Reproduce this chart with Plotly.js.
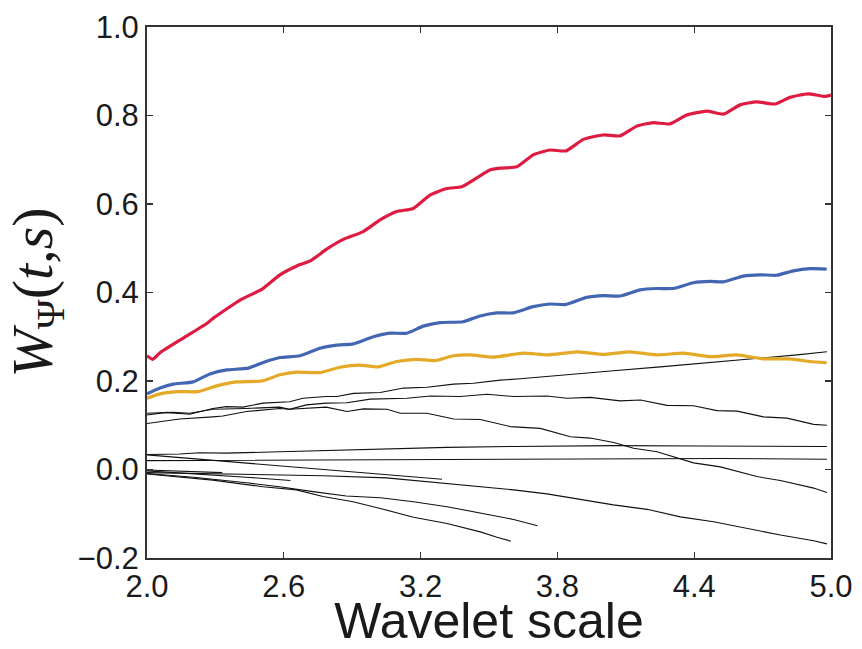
<!DOCTYPE html>
<html>
<head>
<meta charset="utf-8">
<script src="https://cdn.plot.ly/plotly-3.0.1.min.js"></script>
<style>
  html, body { margin: 0; padding: 0; background: #ffffff; }
  #chart { width: 862px; height: 649px; }
</style>
</head>
<body>
<div id="chart"></div>
<script>
// Wavelet coefficient W_Psi(t, s) against wavelet scale s.

// Highlighted series
const redScale = [2.000,2.025,2.057,2.159,2.262,2.291,2.408,2.503,2.583,2.657,2.718,2.788,2.861,2.946,3.022,3.095,3.168,3.241,3.314,3.380,3.431,3.504,3.548,3.622,3.694,3.768,3.838,3.914,4.001,4.075,4.148,4.221,4.294,4.367,4.455,4.528,4.601,4.674,4.754,4.820,4.900,4.974,5.000];
const redW     = [0.257,0.249,0.264,0.297,0.330,0.342,0.383,0.407,0.440,0.460,0.472,0.498,0.520,0.537,0.564,0.583,0.590,0.620,0.635,0.639,0.654,0.677,0.681,0.684,0.711,0.722,0.720,0.746,0.756,0.754,0.776,0.784,0.781,0.801,0.810,0.803,0.824,0.831,0.826,0.841,0.849,0.843,0.846];

const blueScale = [2.000,2.057,2.115,2.203,2.276,2.350,2.444,2.510,2.583,2.671,2.759,2.832,2.905,2.993,3.066,3.139,3.212,3.285,3.387,3.461,3.534,3.607,3.694,3.768,3.838,3.928,4.001,4.075,4.162,4.236,4.308,4.396,4.469,4.528,4.615,4.689,4.762,4.835,4.908,4.981];
const blueW     = [0.171,0.184,0.193,0.198,0.216,0.225,0.229,0.242,0.253,0.257,0.274,0.281,0.284,0.300,0.308,0.308,0.324,0.332,0.334,0.347,0.354,0.354,0.368,0.374,0.373,0.389,0.393,0.392,0.406,0.409,0.409,0.422,0.425,0.424,0.437,0.440,0.439,0.449,0.454,0.453];

const goldScale = [2.000,2.057,2.130,2.225,2.306,2.393,2.503,2.583,2.657,2.759,2.846,2.934,3.014,3.095,3.183,3.263,3.343,3.417,3.519,3.650,3.760,3.885,4.001,4.118,4.236,4.352,4.469,4.586,4.703,4.820,4.908,4.981];
const goldW     = [0.161,0.171,0.176,0.176,0.189,0.198,0.200,0.214,0.220,0.219,0.231,0.236,0.232,0.244,0.249,0.246,0.257,0.259,0.254,0.263,0.259,0.266,0.260,0.266,0.259,0.263,0.255,0.259,0.250,0.250,0.244,0.241];

// Background series (thin black)
const s1Scale = [2.000,2.085,2.187,2.289,2.348,2.421,2.509,2.625,2.684,2.786,2.833,2.906,3.023,3.125,3.228,3.345,3.432,3.550,3.637,3.827,4.046,4.251,4.456,4.661,4.851,4.982];
const s1W     = [0.123,0.129,0.125,0.138,0.142,0.141,0.150,0.153,0.161,0.165,0.165,0.172,0.174,0.184,0.186,0.193,0.195,0.202,0.205,0.214,0.223,0.232,0.241,0.251,0.259,0.266];

const s2Scale = [2.000,2.114,2.187,2.289,2.436,2.582,2.625,2.699,2.786,2.877,2.979,3.140,3.243,3.374,3.491,3.608,3.754,3.842,3.944,4.075,4.164,4.281,4.397,4.500,4.588,4.704,4.807,4.924,4.982];
const s2W     = [0.127,0.129,0.127,0.136,0.138,0.141,0.136,0.146,0.150,0.151,0.159,0.161,0.166,0.165,0.170,0.165,0.166,0.161,0.163,0.155,0.157,0.145,0.144,0.133,0.132,0.119,0.116,0.102,0.100];

const s3Scale = [2.000,2.143,2.289,2.333,2.436,2.582,2.625,2.786,2.877,2.950,3.053,3.111,3.228,3.345,3.462,3.593,3.725,3.857,3.944,4.047,4.134,4.237,4.397,4.515,4.675,4.778,4.924,4.982];
const s3W     = [0.104,0.114,0.119,0.121,0.131,0.138,0.136,0.141,0.131,0.137,0.136,0.127,0.127,0.114,0.113,0.097,0.093,0.074,0.071,0.061,0.048,0.040,0.015,0.006,-0.016,-0.025,-0.042,-0.052];

const s4Scale = [2.000,2.143,2.231,2.348,2.582,2.728,3.050,3.316,3.608,3.900,4.046,4.425,4.690,4.982];
const s4W     = [0.034,0.035,0.038,0.037,0.040,0.042,0.046,0.050,0.052,0.053,0.054,0.053,0.052,0.052];

const s5Scale = [2.000,2.582,3.050,3.550,4.075,4.515,4.982];
const s5W     = [0.020,0.021,0.023,0.024,0.025,0.025,0.023];

const s6Scale = [2.000,2.117,2.263,2.409,2.511,2.629,2.775,2.921,3.050,3.177,3.294];
const s6W     = [0.033,0.028,0.021,0.016,0.010,0.006,0.000,-0.007,-0.012,-0.017,-0.022];

const s7Scale = [2.000,2.234,2.497,2.773,3.050,3.294,3.462,3.608,3.754,3.900,4.046,4.193,4.339,4.485,4.632,4.778,4.924,4.982];
const s7W     = [-0.007,-0.009,-0.011,-0.014,-0.019,-0.031,-0.039,-0.046,-0.055,-0.068,-0.080,-0.090,-0.107,-0.118,-0.133,-0.148,-0.161,-0.168];

const s8Scale = [2.000,2.234,2.453,2.629];
const s8W     = [-0.003,-0.010,-0.018,-0.025];

const s9Scale = [2.000,2.146,2.330];
const s9W     = [-0.001,-0.004,-0.007];

const s10Scale = [2.000,2.216,2.436,2.582,2.728,2.874,3.023,3.169,3.316,3.462,3.608,3.713];
const s10W     = [-0.009,-0.018,-0.030,-0.039,-0.050,-0.060,-0.064,-0.073,-0.084,-0.098,-0.113,-0.127];

const s11Scale = [2.000,2.289,2.509,2.655,2.772,2.904,3.023,3.169,3.316,3.462,3.535,3.596];
const s11W     = [-0.010,-0.024,-0.039,-0.046,-0.061,-0.073,-0.088,-0.108,-0.122,-0.141,-0.153,-0.162];

// Axis ticks
const xTickVals = [2.0, 2.6, 3.2, 3.8, 4.4, 5.0];
const xTickText = ["2.0", "2.6", "3.2", "3.8", "4.4", "5.0"];
const yTickVals = [-0.2, 0.0, 0.2, 0.4, 0.6, 0.8, 1.0];
const yTickText = ["\u22120.2", "0.0", "0.2", "0.4", "0.6", "0.8", "1.0"];

const thinSeries = [
  [s1Scale, s1W], [s2Scale, s2W], [s3Scale, s3W], [s4Scale, s4W],
  [s5Scale, s5W], [s6Scale, s6W], [s7Scale, s7W], [s8Scale, s8W],
  [s9Scale, s9W], [s10Scale, s10W], [s11Scale, s11W]
];

const traces = thinSeries.map(([xs, ys]) => ({
  x: xs, y: ys, type: 'scatter', mode: 'lines',
  line: { color: '#111111', width: 1.1 },
  hoverinfo: 'skip', showlegend: false
}));

const bold = (xs, ys, color) => ({
  x: xs, y: ys, type: 'scatter', mode: 'lines',
  line: { color: color, width: 3.2, shape: 'spline', smoothing: 0.5 },
  showlegend: false
});
traces.push(bold(goldScale, goldW, '#E3A927'));
traces.push(bold(blueScale, blueW, '#4366B3'));
traces.push(bold(redScale, redW, '#DF1B42'));

const axisCommon = {
  showgrid: false, zeroline: false,
  showline: true, linecolor: '#333333', linewidth: 2, mirror: 'ticks',
  ticks: 'inside', ticklen: 6, tickwidth: 1.3, tickcolor: '#333333',
  tickfont: { family: 'Liberation Sans, Arial, sans-serif', size: 31, color: '#1a1a1a' }
};

const layout = {
  width: 862, height: 649,
  margin: { l: 147, r: 31, t: 27, b: 91 },
  paper_bgcolor: '#ffffff', plot_bgcolor: '#ffffff',
  xaxis: Object.assign({}, axisCommon, {
    range: [2.0, 5.0], tickmode: 'array', tickvals: xTickVals, ticktext: xTickText,
    title: { text: 'Wavelet scale', standoff: 13,
             font: { family: 'Liberation Sans, Arial, sans-serif', size: 50, color: '#1a1a1a' } }
  }),
  yaxis: Object.assign({}, axisCommon, {
    range: [-0.2, 1.0], tickmode: 'array', tickvals: yTickVals, ticktext: yTickText,
    title: { text: '<i>W</i><sub>\u03A8</sub>(<i>t</i>,<i>s</i>)', standoff: 6,
             font: { family: 'Liberation Serif, Times New Roman, serif', size: 58, color: '#1a1a1a' } }
  })
};

Plotly.newPlot('chart', traces, layout, { displayModeBar: false, staticPlot: true });
</script>
</body>
</html>
